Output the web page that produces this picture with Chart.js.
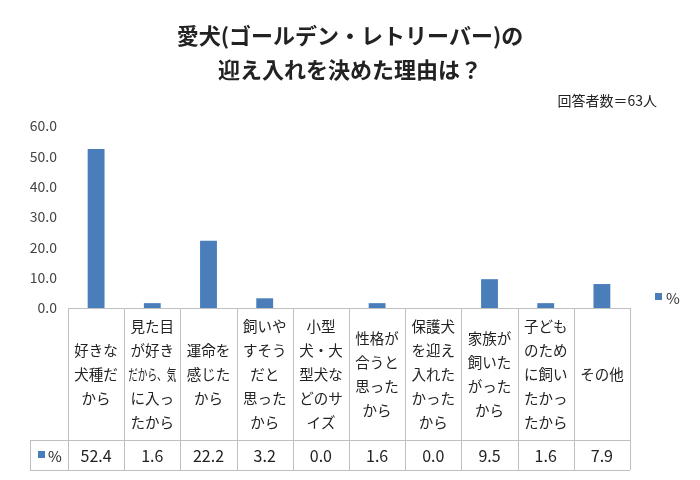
<!DOCTYPE html>
<html>
<head>
<meta charset="utf-8">
<script src="https://cdn.jsdelivr.net/npm/chart.js@4"></script>
<style>
  body { margin: 0; background: #fff; }
  #wrap { width: 700px; height: 480px; position: relative; }
</style>
</head>
<body>
<div id="wrap"><canvas id="c" width="700" height="480"></canvas></div>
<script>
// ── Data ────────────────────────────────────────────────────
const titleLines = ['愛犬(ゴールデン・レトリーバー)の', '迎え入れを決めた理由は？'];
const noteText   = '回答者数＝63人';
const seriesName = '%';
const categories = [
  ['好きな', '犬種だ', 'から'],
  ['見た目', 'が好き', 'だから、気', 'に入っ', 'たから'],
  ['運命を', '感じた', 'から'],
  ['飼いや', 'すそう', 'だと', '思った', 'から'],
  ['小型', '犬・大', '型犬な', 'どのサ', 'イズ'],
  ['性格が', '合うと', '思った', 'から'],
  ['保護犬', 'を迎え', '入れた', 'かった', 'から'],
  ['家族が', '飼いた', 'がった', 'から'],
  ['子ども', 'のため', 'に飼い', 'たかっ', 'たから'],
  ['その他']
];
const values = [52.4, 1.6, 22.2, 3.2, 0.0, 1.6, 0.0, 9.5, 1.6, 7.9];

const BLUE = '#4a7ebb';
const FONT = '"Noto Sans CJK JP", "Noto Sans", sans-serif';

// ── Title, legend and data table ────────────────────────────
const tablePlugin = {
  id: 'table',
  afterDraw(chart) {
    const ctx = chart.ctx;
    const area = chart.chartArea;
    const x = chart.scales.x;
    const labelBottom = 440, rowBottom = 470, tableLeft = 30;
    ctx.save();

    ctx.fillStyle = '#222';
    ctx.textAlign = 'center';
    ctx.textBaseline = 'middle';
    ctx.font = 'bold 22px ' + FONT;
    ctx.fillText(titleLines[0], 350, 36);
    ctx.fillText(titleLines[1], 350, 70);
    ctx.font = '14px ' + FONT;
    ctx.textAlign = 'right';
    ctx.fillText(noteText, 657, 101);

    // legend
    ctx.fillStyle = BLUE;
    ctx.fillRect(655, 293, 7, 7);
    ctx.fillStyle = '#333';
    ctx.textAlign = 'left';
    ctx.font = '15px ' + FONT;
    ctx.fillText(seriesName, 666, 298);

    // grid of table
    ctx.strokeStyle = '#bfbfbf';
    ctx.lineWidth = 1;
    const half = (x.getPixelForValue(1) - x.getPixelForValue(0)) / 2;
    ctx.beginPath();
    for (let i = 0; i <= categories.length; i++) {
      const px = Math.round(x.getPixelForValue(i) - half) + 0.5;
      ctx.moveTo(px, area.bottom); ctx.lineTo(px, rowBottom);
    }
    ctx.moveTo(tableLeft + 0.5, labelBottom); ctx.lineTo(tableLeft + 0.5, rowBottom);
    ctx.moveTo(tableLeft, labelBottom + 0.5); ctx.lineTo(area.right, labelBottom + 0.5);
    ctx.moveTo(tableLeft, rowBottom + 0.5); ctx.lineTo(area.right, rowBottom + 0.5);
    ctx.stroke();

    // category labels and values
    ctx.fillStyle = '#222';
    ctx.textAlign = 'center';
    const lh = 24;
    const mid = (area.bottom + labelBottom) / 2;
    const maxW = half * 2 - 8;
    categories.forEach((lines, i) => {
      const cx = x.getPixelForValue(i);
      const y0 = mid - (lines.length - 1) * lh / 2;
      ctx.font = '14.5px ' + FONT;
      lines.forEach((t, j) => ctx.fillText(t, cx, y0 + j * lh, maxW));
      ctx.font = '16px ' + FONT;
      ctx.fillText(values[i].toFixed(1), cx, (labelBottom + rowBottom) / 2 + 1);
    });

    // row header
    ctx.fillStyle = BLUE;
    ctx.fillRect(38, 451, 7, 7);
    ctx.fillStyle = '#222';
    ctx.textAlign = 'left';
    ctx.font = '15px ' + FONT;
    ctx.fillText(seriesName, 48, 456);
    ctx.restore();
  }
};

new Chart(document.getElementById('c'), {
  type: 'bar',
  data: {
    labels: categories.map(c => c.join('')),
    datasets: [{
      label: seriesName,
      data: values,
      backgroundColor: BLUE,
      barPercentage: 0.3,
      categoryPercentage: 1.0
    }]
  },
  options: {
    responsive: false,
    animation: false,
    layout: { padding: { top: 126, bottom: 172, left: 20, right: 70 } },
    plugins: { legend: { display: false }, tooltip: { enabled: false } },
    scales: {
      x: {
        grid: { display: false, drawTicks: false },
        border: { color: '#bfbfbf' },
        ticks: { display: false }
      },
      y: {
        min: 0, max: 60,
        afterFit(s) { s.width = 48; },
        grid: { display: false },
        border: { display: false },
        ticks: {
          stepSize: 10,
          color: '#444',
          font: { family: FONT, size: 14 },
          callback: v => v.toFixed(1)
        }
      }
    }
  },
  plugins: [tablePlugin]
});
</script>
</body>
</html>
